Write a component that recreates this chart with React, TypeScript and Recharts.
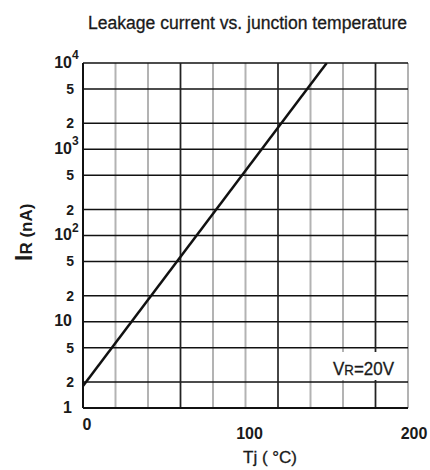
import { CartesianGrid, Line, LineChart, ReferenceLine, XAxis, YAxis } from 'recharts'

// reverse leakage current vs. junction temperature, VR = 20V
const temps = [0, 150]
const leakage = [1.8, 10000]

const xTicks = [0, 20, 40, 60, 80, 100, 120, 140, 160, 180, 200]
const xLabels = [0, 100, 200]
const darkX = [60, 120, 180]
const yTicks = [1, 2, 5, 10, 20, 50, 100, 200, 500, 1000, 2000, 5000, 10000]
const yLabels = ['1', '2', '5', '10', '2', '5', '10^2', '2', '5', '10^3', '2', '5', '10^4']

const data = temps.map((t, i) => ({ t, ir: leakage[i] }))

const INK = '#1a1a1a'
const FONT = '"Liberation Sans", Arial, sans-serif'

type TickProps = {
  x: number
  y: number
  payload: { value: number }
}

const YTick = ({ y, payload }: TickProps) => {
  const label = yLabels[yTicks.indexOf(payload.value)]
  if (!label) return null
  const [base, exp] = label.split('^')
  const big = base.length > 1 || base === '1'
  return (
    <g fontFamily={FONT} fontWeight="bold" fill={INK}>
      <text x={big ? 72 : 74} y={y} dy={big ? 4.5 : 5} textAnchor="end" fontSize={big ? 16 : 14}>
        {base}
      </text>
      {exp && (
        <text x={72} y={y} dy={-4} fontSize={12}>
          {exp}
        </text>
      )}
    </g>
  )
}

const XTick = ({ x, y, payload }: TickProps) => {
  if (!xLabels.includes(payload.value)) return null
  const first = payload.value === 0
  return (
    <text
      x={x + (payload.value === 200 ? 6 : 4)}
      y={first ? y + 14 : y + 23}
      textAnchor="middle"
      fontFamily={FONT}
      fontWeight="bold"
      fontSize={16}
      fill={INK}
    >
      {payload.value}
    </text>
  )
}

export default function App() {
  return (
    <div style={{ position: 'absolute', left: 0, top: 0, width: 430, height: 470, background: '#fff' }}>
      <LineChart
        width={430}
        height={470}
        data={data}
        margin={{ top: 63, right: 22, left: 23, bottom: 32 }}
        style={{ fontFamily: FONT }}
      >
        <CartesianGrid vertical horizontal={false} stroke="#b3b3b3" strokeWidth={2} />
        <CartesianGrid vertical={false} horizontal stroke="#111" strokeWidth={1.5} />
        {darkX.map((v) => (
          <ReferenceLine key={v} x={v} stroke="#222" strokeWidth={1.5} />
        ))}
        <XAxis
          dataKey="t"
          type="number"
          domain={[0, 200]}
          ticks={xTicks}
          interval={0}
          tickLine={false}
          axisLine={{ stroke: '#111', strokeWidth: 2 }}
          height={30}
          tick={(props: any) => <XTick {...props} />}
        />
        <YAxis
          type="number"
          scale="log"
          domain={[1, 10000]}
          ticks={yTicks}
          interval={0}
          allowDataOverflow
          tickLine={false}
          axisLine={{ stroke: '#111', strokeWidth: 2 }}
          width={60}
          tick={(props: any) => <YTick {...props} />}
        />
        <Line
          type="linear"
          dataKey="ir"
          stroke="#111"
          strokeWidth={2.5}
          dot={false}
          isAnimationActive={false}
        />
      </LineChart>
      <svg
        width={430}
        height={470}
        style={{ position: 'absolute', left: 0, top: 0, pointerEvents: 'none' }}
        fontFamily={FONT}
        fill={INK}
      >
        <text
          x={88}
          y={29}
          fontSize={18}
          textLength={319}
          lengthAdjust="spacingAndGlyphs"
          stroke={INK}
          strokeWidth={0.3}
        >
          Leakage current vs. junction temperature
        </text>
        <text
          x={243}
          y={463}
          fontSize={17}
          textLength={54}
          lengthAdjust="spacingAndGlyphs"
          stroke={INK}
          strokeWidth={0.3}
        >
          Tj ( °C)
        </text>
        <text transform="translate(32,261) rotate(-90)" fontWeight="bold">
          <tspan fontSize={23}>I</tspan>
          <tspan fontSize={17}>R (nA)</tspan>
        </text>
        <rect x={330} y={352} width={66} height={28} fill="#fff" />
        <text
          x={333}
          y={375}
          textLength={61}
          lengthAdjust="spacingAndGlyphs"
          stroke={INK}
          strokeWidth={0.3}
        >
          <tspan fontSize={18}>V</tspan>
          <tspan fontSize={14}>R</tspan>
          <tspan fontSize={18}>=20V</tspan>
        </text>
      </svg>
    </div>
  )
}
